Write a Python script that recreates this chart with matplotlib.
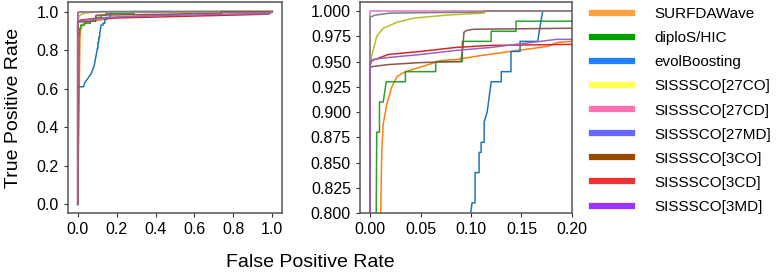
import numpy as np
import matplotlib
matplotlib.use("Agg")
import matplotlib.pyplot as plt
from matplotlib.lines import Line2D

plt.rcParams['font.family'] = ['Liberation Sans', 'DejaVu Sans']

methods = ["SURFDAWave", "diploS/HIC", "evolBoosting", "SISSSCO[27CO]",
           "SISSSCO[27CD]", "SISSSCO[27MD]", "SISSSCO[3CO]", "SISSSCO[3CD]",
           "SISSSCO[3MD]"]

# colours of the curves and of the legend swatches (they differ in the original)
line_colors = ["#ff7f0e", "#2ca02c", "#1f77b4", "#bcbd22", "#e377c2",
               "#7f7f7f", "#8c564b", "#d62728", "#9467bd"]
legend_colors = ["#ffa040", "#00a000", "#1e80ff", "#ffff55", "#ff70b0",
                 "#6666ff", "#994c00", "#ee3333", "#9933ff"]

# ROC curves
fpr_surf = [0, 0, 0.004, 0.008, 0.0105, 0.0116, 0.013, 0.0166, 0.0216, 0.0266,
            0.035, 0.0515, 0.07, 0.085, 0.11, 0.146, 0.176, 0.186, 0.2, 0.3,
            0.4, 0.5, 0.575, 0.6, 1.0]
tpr_surf = [0, 0.02, 0.3, 0.6, 0.8, 0.862, 0.888, 0.908, 0.925, 0.935,
            0.94, 0.945, 0.951, 0.952, 0.956, 0.961, 0.965, 0.969, 0.970, 0.976,
            0.981, 0.986, 0.99, 1.0, 1.0]

fpr_diplo = [0, 0.002, 0.0066, 0.0093, 0.0093, 0.013, 0.016, 0.035, 0.035,
             0.065, 0.065, 0.0914, 0.0914, 0.12, 0.12, 0.1446, 0.1446, 0.29,
             0.29, 1.0]
tpr_diplo = [0, 0.18, 0.88, 0.88, 0.91, 0.91, 0.93, 0.93, 0.94,
             0.94, 0.95, 0.95, 0.97, 0.97, 0.98, 0.98, 0.99, 0.99,
             1.0, 1.0]

fpr_evol = [0, 0, 0.03, 0.035, 0.05, 0.07, 0.085, 0.092, 0.0997, 0.101, 0.104,
            0.104, 0.108, 0.108, 0.11, 0.11, 0.113, 0.113, 0.116, 0.12, 0.13,
            0.13, 0.1396, 0.1396, 0.1486, 0.1486, 0.166, 0.171, 1.0]
tpr_evol = [0, 0.61, 0.61, 0.63, 0.65, 0.68, 0.72, 0.76, 0.8, 0.81, 0.81,
            0.84, 0.84, 0.86, 0.86, 0.87, 0.87, 0.89, 0.90, 0.93, 0.93,
            0.94, 0.94, 0.96, 0.96, 0.97, 0.97, 1.0, 1.0]

fpr_27co = [0, 0, 0.003, 0.0066, 0.013, 0.027, 0.043, 0.076, 0.113, 0.114, 1.0]
tpr_27co = [0, 0.95, 0.961, 0.975, 0.983, 0.989, 0.993, 0.996, 0.998, 1.0, 1.0]

fpr_27cd = [0, 0, 1.0]
tpr_27cd = [0, 1.0, 1.0]

fpr_27md = [0, 0, 0.005, 0.02, 0.11, 0.115, 1.0]
tpr_27md = [0, 0.994, 0.996, 0.998, 0.999, 1.0, 1.0]

fpr_3co = [0, 0, 0.002, 0.018, 0.05, 0.09, 0.092, 0.093, 0.096, 0.103, 0.2,
           0.5, 0.74, 0.74, 1.0]
tpr_3co = [0, 0.944, 0.945, 0.947, 0.949, 0.950, 0.965, 0.979, 0.981, 0.982,
           0.983, 0.987, 0.99, 1.0, 1.0]

fpr_3cd = [0, 0, 0.002, 0.018, 0.05, 0.085, 0.12, 0.2, 0.4, 0.6, 0.8, 0.98, 1.0]
tpr_3cd = [0, 0.948, 0.951, 0.957, 0.960, 0.964, 0.966, 0.967, 0.972, 0.977,
           0.982, 0.987, 1.0]

fpr_3md = [0, 0, 0.002, 0.018, 0.05, 0.085, 0.12, 0.185, 0.2, 0.4, 0.6, 0.8,
           0.98, 1.0]
tpr_3md = [0, 0.946, 0.952, 0.954, 0.957, 0.961, 0.964, 0.972, 0.972, 0.978,
           0.984, 0.988, 0.99, 1.0]

fprs = [fpr_surf, fpr_diplo, fpr_evol, fpr_27co, fpr_27cd, fpr_27md,
        fpr_3co, fpr_3cd, fpr_3md]
tprs = [tpr_surf, tpr_diplo, tpr_evol, tpr_27co, tpr_27cd, tpr_27md,
        tpr_3co, tpr_3cd, tpr_3md]

fig = plt.figure(figsize=(7.77, 2.76), dpi=100)
ax1 = fig.add_axes([0.0875, 0.2283, 0.2754, 0.7645])
ax2 = fig.add_axes([0.4633, 0.2283, 0.2728, 0.7645])

for ax in (ax1, ax2):
    for f, t, c in zip(fprs, tprs, line_colors):
        ax.plot(f, t, color=c, lw=1.1)
    for s in ax.spines.values():
        s.set_color("#555555")
        s.set_linewidth(1.1)
    ax.tick_params(labelsize=11.5, colors="#333333", length=3, width=0.8,
                   labelcolor="black")

ax1.set_xlim(-0.05, 1.05)
ax1.set_ylim(-0.045, 1.05)
ax1.set_xticks(np.arange(0, 1.01, 0.2))
ax1.set_yticks(np.arange(0, 1.01, 0.2))
ax1.set_xticklabels(["%.1f" % v for v in np.arange(0, 1.01, 0.2)])
ax1.set_yticklabels(["%.1f" % v for v in np.arange(0, 1.01, 0.2)])
ax1.set_ylabel("True Positive Rate", fontsize=14)
ax1.yaxis.set_label_coords(-0.215, 0.5)

ax2.set_xlim(-0.01, 0.2)
ax2.set_ylim(0.8, 1.009)
ax2.set_xticks(np.arange(0, 0.201, 0.05))
ax2.set_xticklabels(["%.2f" % v for v in np.arange(0, 0.201, 0.05)])
ax2.set_yticks(np.arange(0.8, 1.0001, 0.025))
ax2.set_yticklabels(["%.3f" % v for v in np.arange(0.8, 1.0001, 0.025)])

fig.text(0.399, 0.05, "False Positive Rate", fontsize=14, ha="center",
         va="center")

handles = [Line2D([], [], color=c, lw=4.5) for c in legend_colors]
fig.legend(handles, methods, loc="upper left", bbox_to_anchor=(0.758, 0.985),
           frameon=False, fontsize=11, handlelength=2.6, handletextpad=1.45,
           labelspacing=0.66, borderaxespad=0.0, borderpad=0.2)

fig.savefig("out.png", dpi=100)
